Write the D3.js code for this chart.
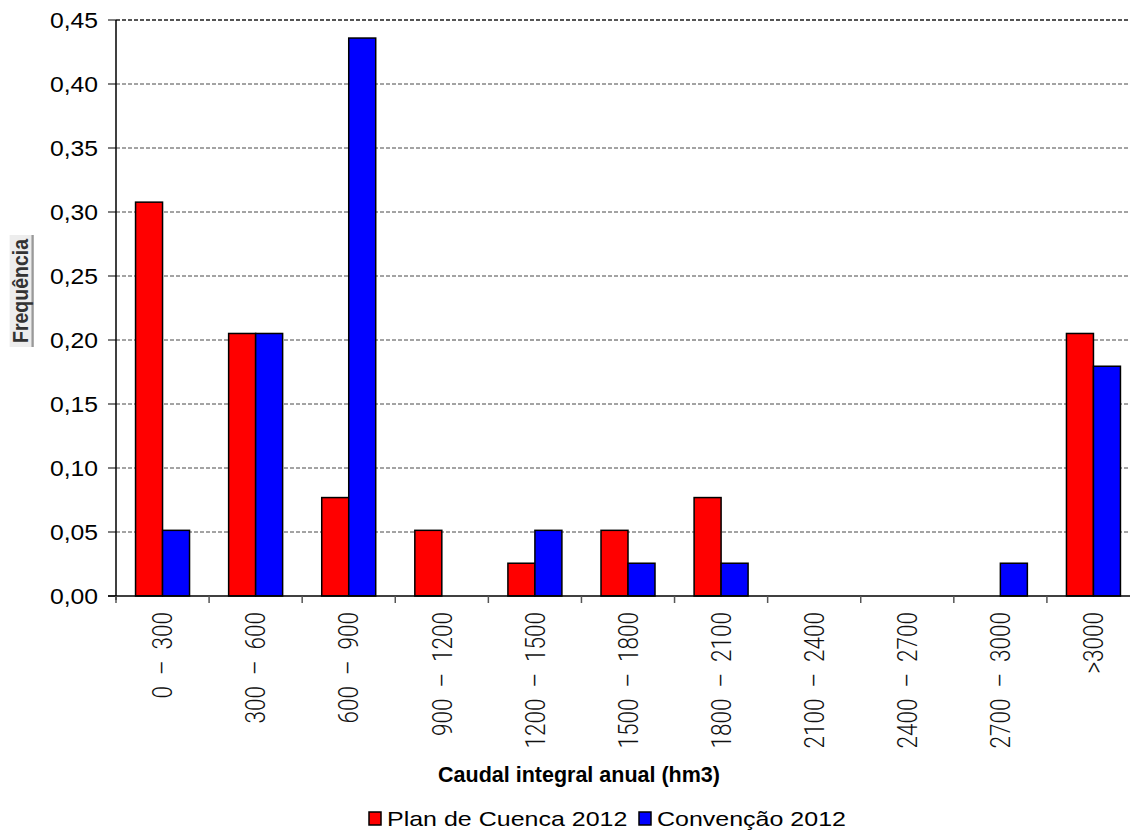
<!DOCTYPE html>
<html lang="pt">
  <head>
    <meta charset="UTF-8" />
    <title>Caudal integral anual</title>
  </head>
  <style>
    body {
      margin: 0;
      background: #fff;
      overflow: hidden;
    }
    svg {
      display: block;
      font-family: 'Liberation Sans', Arial, sans-serif;
    }
  </style>
  <body>
    <svg id="svg" width="1130" height="831"></svg>

    <script src="https://d3js.org/d3.v7.min.js"></script>
    <script>
      // classes of annual flow (hm3)
      const categories = [
        '0  –  300', '300  –  600', '600  –  900', '900  –  1200',
        '1200  –  1500', '1500  –  1800', '1800  –  2100', '2100  –  2400',
        '2400  –  2700', '2700  –  3000', '>3000'
      ];
      const seriesNames = ['Plan de Cuenca 2012', 'Convenção 2012'];
      const seriesColors = ['#ff0000', '#0000ff'];
      // frequencies
      const planCuenca = [0.3077, 0.2051, 0.0769, 0.0513, 0.0256, 0.0513, 0.0769, 0, 0, 0, 0.2051];
      const convencao = [0.0513, 0.2051, 0.4359, 0, 0.0513, 0.0256, 0.0256, 0, 0, 0.0256, 0.1795];
      const yTicks = [0, 0.05, 0.1, 0.15, 0.2, 0.25, 0.3, 0.35, 0.4, 0.45];

      const svg = d3.select('#svg');
      const mLeft = 116, mRight = 1140, mTop = 20, mBottom = 596;

      const x0 = d3.scaleBand()
        .domain(categories)
        .range([mLeft, mRight])
        .paddingInner(0.42)
        .paddingOuter(0.21);
      const x1 = d3.scaleBand()
        .domain([0, 1])
        .range([0, x0.bandwidth()]);
      const y = d3.scaleLinear().domain([0, 0.45]).range([mBottom, mTop]);

      const fmt = d3.formatLocale({ decimal: ',', thousands: '.', grouping: [3], currency: ['', ''] }).format('.2f');

      // gridlines
      svg.append('g')
        .selectAll('line')
        .data(yTicks.filter((d) => d > 0))
        .enter()
        .append('line')
        .attr('x1', mLeft)
        .attr('x2', mRight)
        .attr('y1', (d) => y(d))
        .attr('y2', (d) => y(d))
        .attr('stroke', (d) => (d === 0.45 ? '#555' : '#333'))
        .attr('stroke-width', (d) => (d === 0.45 ? 1.8 : 0.9))
        .attr('stroke-dasharray', '4,2');

      // y ticks + labels
      const yg = svg.append('g');
      yg.selectAll('line')
        .data(yTicks)
        .enter()
        .append('line')
        .attr('x1', mLeft - 8)
        .attr('x2', mLeft)
        .attr('y1', (d) => y(d))
        .attr('y2', (d) => y(d))
        .attr('stroke', '#555')
        .attr('stroke-width', 1.5);
      yg.selectAll('text')
        .data(yTicks)
        .enter()
        .append('text')
        .attr('transform', (d) => `translate(98,${y(d)}) scale(1.15,1)`)
        .attr('dy', '0.36em')
        .attr('text-anchor', 'end')
        .attr('font-size', 21.5)
        .attr('fill', '#000')
        .text((d) => fmt(d));

      // bars
      svg.append('g')
        .selectAll('g')
        .data(categories)
        .enter()
        .append('g')
        .attr('transform', (d) => `translate(${x0(d)},0)`)
        .each(function (cat, i) {
          [planCuenca[i], convencao[i]].forEach((v, j) => {
            if (v <= 0) return;
            d3.select(this)
              .append('rect')
              .attr('x', x1(j))
              .attr('y', y(v))
              .attr('width', x1.bandwidth())
              .attr('height', mBottom - y(v))
              .attr('fill', seriesColors[j])
              .attr('stroke', '#000')
              .attr('stroke-width', 1.5);
          });
        });

      // axes lines
      svg.append('line')
        .attr('x1', mLeft).attr('x2', mLeft)
        .attr('y1', mTop).attr('y2', mBottom + 4)
        .attr('stroke', '#000').attr('stroke-width', 1.5);
      svg.append('line')
        .attr('x1', mLeft - 8).attr('x2', mRight)
        .attr('y1', mBottom).attr('y2', mBottom)
        .attr('stroke', '#000').attr('stroke-width', 1.5);

      // x ticks at band boundaries
      const step = x0.step();
      svg.append('g')
        .selectAll('line')
        .data(d3.range(categories.length + 1))
        .enter()
        .append('line')
        .attr('x1', (i) => mLeft + i * step)
        .attr('x2', (i) => mLeft + i * step)
        .attr('y1', mBottom)
        .attr('y2', mBottom + 7)
        .attr('stroke', '#555')
        .attr('stroke-width', 1.5);

      // x labels, rotated and stretched across
      svg.append('g')
        .selectAll('text')
        .data(categories)
        .enter()
        .append('text')
        .attr('transform', (d) => `translate(${x0(d) + x0.bandwidth() / 2},612) rotate(-90) scale(1,1.2)`)
        .attr('dy', '0.36em')
        .attr('text-anchor', 'end')
        .attr('font-family', "Roboto, 'Liberation Sans', sans-serif")
        .attr('font-size', 22.5)
        .attr('font-weight', 300)
        .style('white-space', 'pre')
        .attr('fill', '#111')
        .text((d) => d);

      // axis titles
      svg.append('text')
        .attr('x', 579)
        .attr('y', 782)
        .attr('text-anchor', 'middle')
        .attr('font-size', 21.5)
        .attr('font-weight', 'bold')
        .text('Caudal integral anual (hm3)');

      const yl = svg.append('g').attr('transform', 'translate(28,291) rotate(-90) scale(1,1.15)');
      yl.append('rect')
        .attr('x', -56).attr('y', -16)
        .attr('width', 112).attr('height', 21)
        .attr('fill', '#ededed');
      yl.append('line')
        .attr('x1', -56).attr('x2', 56)
        .attr('y1', 4).attr('y2', 4)
        .attr('stroke', '#999').attr('stroke-width', 2);
      yl.append('text')
        .attr('text-anchor', 'middle')
        .attr('font-size', 19.5)
        .attr('font-weight', 'bold')
        .attr('fill', '#333')
        .text('Frequência');

      // legend
      const legX = [369, 639];
      const leg = svg.append('g')
        .selectAll('g')
        .data(seriesNames)
        .enter()
        .append('g')
        .attr('transform', (d, i) => `translate(${legX[i]},812)`);
      leg.append('rect')
        .attr('width', 12)
        .attr('height', 13)
        .attr('fill', (d, i) => seriesColors[i])
        .attr('stroke', '#000')
        .attr('stroke-width', 1.5);
      leg.append('text')
        .attr('transform', 'translate(18,14) scale(1.19,1)')
        .attr('font-size', 21)
        .text((d) => d);
    </script>
  </body>
</html>
